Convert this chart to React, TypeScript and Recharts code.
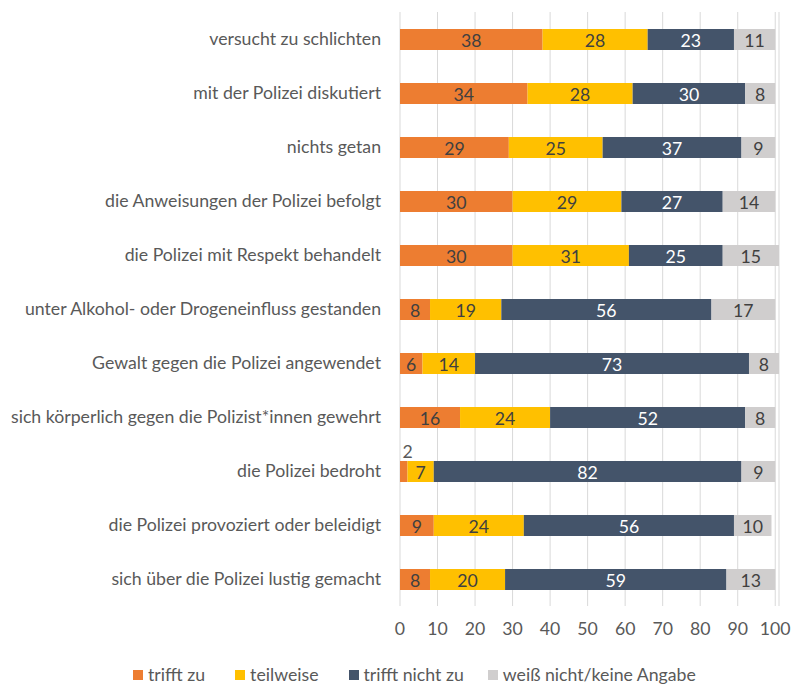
import React from 'react';
import { BarChart, Bar, XAxis, YAxis, CartesianGrid, Legend, LabelList } from 'recharts';

const categories = [
  'versucht zu schlichten',
  'mit der Polizei diskutiert',
  'nichts getan',
  'die Anweisungen der Polizei befolgt',
  'die Polizei mit Respekt behandelt',
  'unter Alkohol- oder Drogeneinfluss gestanden',
  'Gewalt gegen die Polizei angewendet',
  'sich körperlich gegen die Polizist*innen gewehrt',
  'die Polizei bedroht',
  'die Polizei provoziert oder beleidigt',
  'sich über die Polizei lustig gemacht',
];
const trifftZu = [38, 34, 29, 30, 30, 8, 6, 16, 2, 9, 8];
const teilweise = [28, 28, 25, 29, 31, 19, 14, 24, 7, 24, 20];
const trifftNichtZu = [23, 30, 37, 27, 25, 56, 73, 52, 82, 56, 59];
const weissNicht = [11, 8, 9, 14, 15, 17, 8, 8, 9, 10, 13];
const xTicks = [0, 10, 20, 30, 40, 50, 60, 70, 80, 90, 100];

const seriesNames = ['trifft zu', 'teilweise', 'trifft nicht zu', 'weiß nicht/keine Angabe'];
const colors = ['#ED7D31', '#FFC000', '#44546A', '#D0CECE'];
const labelColors = ['#404040', '#404040', '#FFFFFF', '#404040'];

const data = categories.map((c, i) => ({
  name: c,
  a: trifftZu[i],
  b: teilweise[i],
  c: trifftNichtZu[i],
  d: weissNicht[i],
}));

const FONT = 'Lato, "Open Sans", sans-serif';
const FS = 17.7;
const TEXT = '#595959';

const makeLabel = (color: string, outsideSmall: boolean) => (props: any) => {
  const { x, y, width, height, value } = props;
  const small = outsideSmall && value <= 3;
  if (small) {
    return (
      <text x={x + width / 2 + 4} y={y - 10} fill={TEXT} fontSize={FS} fontFamily={FONT}
        textAnchor="middle" dominantBaseline="central">{value}</text>
    );
  }
  return (
    <text x={x + width / 2} y={y + height / 2 + 1} fill={color} fontSize={FS} fontFamily={FONT}
      textAnchor="middle" dominantBaseline="central">{value}</text>
  );
};

const gaps = [30, 30, 24, 0];

const LegendContent = () => (
  <div style={{ display: 'flex', marginLeft: 133, height: 16, alignItems: 'center', fontFamily: FONT, fontSize: FS, color: TEXT }}>
    {seriesNames.map((n, i) => (
      <div key={n} style={{ display: 'flex', alignItems: 'center', marginRight: gaps[i] }}>
        <span style={{ display: 'inline-block', width: 10, height: 10, background: colors[i], marginRight: 5 }} />
        <span style={{ lineHeight: '16px', whiteSpace: 'nowrap' }}>{n}</span>
      </div>
    ))}
  </div>
);

const keys = ['a', 'b', 'c', 'd'];

export default function App() {
  return (
    <div style={{ position: 'absolute', left: 0, top: 0, width: 795, height: 688, background: '#fff' }}>
      <BarChart
        width={795}
        height={688}
        data={data}
        layout="vertical"
        margin={{ top: 12, right: 16, left: 0, bottom: 5 }}
        style={{ fontFamily: FONT }}
      >
        <CartesianGrid horizontal={false} vertical stroke="#D9D9D9" />
        <XAxis
          type="number"
          domain={[0, 100]}
          ticks={xTicks}
          interval={0}
          axisLine={false}
          tickLine={false}
          tickSize={0}
          tickMargin={16}
          height={61}
          tick={{ fill: TEXT, fontSize: FS, fontFamily: FONT }}
        />
        <YAxis
          type="category"
          dataKey="name"
          width={400}
          axisLine={false}
          tickLine={false}
          tickSize={0}
          tickMargin={19}
          interval={0}
          tick={{ fill: TEXT, fontSize: FS, fontFamily: FONT }}
        />
        <Legend verticalAlign="bottom" content={<LegendContent />} />
        {keys.map((k, i) => (
          <Bar key={k} dataKey={k} name={seriesNames[i]} stackId="s" fill={colors[i]} barSize={21} isAnimationActive={false}>
            <LabelList dataKey={k} content={makeLabel(labelColors[i], i === 0)} />
          </Bar>
        ))}
      </BarChart>
    </div>
  );
}
